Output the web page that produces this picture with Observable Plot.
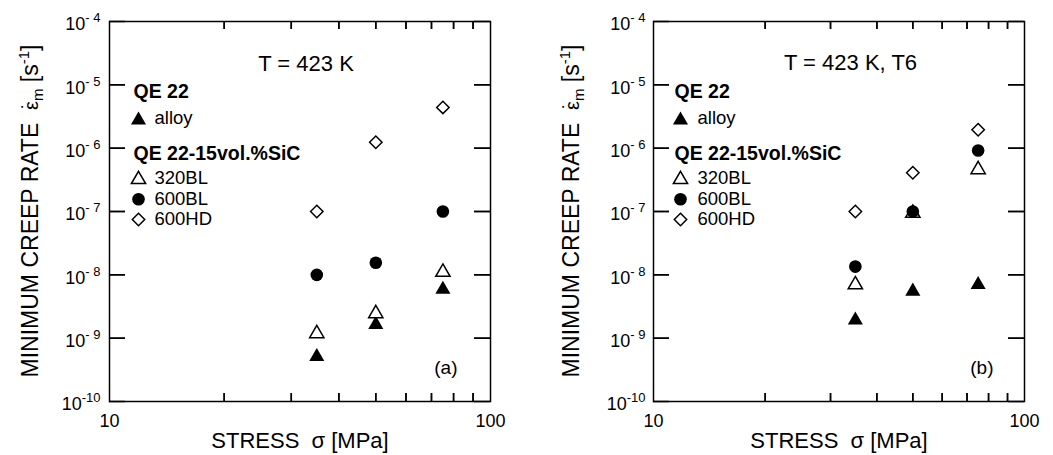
<!DOCTYPE html>
<html><head><meta charset="utf-8">
<script src="https://cdn.jsdelivr.net/npm/d3@7"></script>
<script src="https://cdn.jsdelivr.net/npm/@observablehq/plot@0.6"></script>
<style>
body{margin:0;background:#fff;}
#wrap{display:flex;width:1053px;height:455px;}
#wrap svg{flex:none;}
</style></head><body><div id="wrap"></div>
<script>
// ---- data ----
const stress = [35, 50, 75];
const xTickLabels = [10, 100];
const xMinorTicks = [20, 30, 40, 50, 60, 70, 80, 90];
const yTicks = [1e-10, 1e-9, 1e-8, 1e-7, 1e-6, 1e-5, 1e-4];

const alloyA = [5.1e-10, 1.64e-9, 5.9e-9];
const bl320A = [1.18e-9, 2.45e-9, 1.1e-8];
const bl600A = [1.0e-8, 1.55e-8, 1.0e-7];
const hd600A = [1.0e-7, 1.24e-6, 4.4e-6];

const alloyB = [1.92e-9, 5.5e-9, 7.0e-9];
const bl320B = [7.0e-9, 9.4e-8, 4.6e-7];
const bl600B = [1.35e-8, 1.0e-7, 9.2e-7];
const hd600B = [1.0e-7, 4.1e-7, 1.95e-6];

const seriesNames = ["alloy", "320BL", "600BL", "600HD"];
const groupTitles = ["QE 22", "QE 22-15vol.%SiC"];
const titles = ["T = 423 K", "T = 423 K, T6"];
const panelTags = ["(a)", "(b)"];
const xLabel = "STRESS\u00a0\u00a0\u03c3 [MPa]";

// ---- styles ----
const FONT = '"Liberation Sans", Arial, Helvetica, sans-serif';
const symStyle = {
  "alloy": {symbol: "triangle", fill: "black", stroke: "none", r: 5.6},
  "320BL": {symbol: "triangle", fill: "white", stroke: "black", strokeWidth: 1.5, r: 5.3},
  "600BL": {symbol: "circle", fill: "black", stroke: "none", r: 6.3},
  "600HD": {symbol: "diamond2", fill: "white", stroke: "black", strokeWidth: 1.5, r: 5.6}
};

function rowsFor(seriesData) {
  const rows = [];
  seriesNames.forEach((s, k) => stress.forEach((x, i) => rows.push({series: s, stress: x, rate: seriesData[k][i]})));
  return rows;
}

const H = 455, MT = 21, MB = 54;
const panels = [
  {data: rowsFor([alloyA, bl320A, bl600A, hd600A]), title: titles[0], tag: panelTags[0],
   width: 527, marginLeft: 109, marginRight: 37, ylx: 38, yPad: 9, titleDx: 6, titleDy: 49, tagDx: -33,
   legTitleDx: 24, legMarkDx: 29, legTextDx: 45},
  {data: rowsFor([alloyB, bl320B, bl600B, hd600B]), title: titles[1], tag: panelTags[1],
   width: 526, marginLeft: 126, marginRight: 29, ylx: 52, yPad: 8, titleDx: 11.5, titleDy: 48, tagDx: -31,
   legTitleDx: 21, legMarkDx: 27, legTextDx: 44}
];

const legendRows = [
  {kind: "title", text: groupTitles[0], dy: 76},
  {kind: "item", series: seriesNames[0], markDy: 98.7, textDy: 102.5},
  {kind: "title", text: groupTitles[1], dy: 138.3},
  {kind: "item", series: seriesNames[1], markDy: 158, textDy: 162.3},
  {kind: "item", series: seriesNames[2], markDy: 177.7, textDy: 183},
  {kind: "item", series: seriesNames[3], markDy: 198, textDy: 203.3}
];

function makePanel(p) {
  const fw = p.width - p.marginLeft - p.marginRight;
  const fh = H - MT - MB;
  const xTickLen = 8, yTickLen = 16;
  const tickStyle = {stroke: "black", strokeWidth: 1.5};
  const marks = [
    Plot.frame({stroke: "black", strokeWidth: 1.5}),
    // inward ticks
    Plot.tickX(xMinorTicks, {x: d => d, insetTop: fh - xTickLen, ...tickStyle}),
    Plot.tickX(xMinorTicks, {x: d => d, insetBottom: fh - xTickLen, ...tickStyle}),
    Plot.tickY(yTicks, {y: d => d, insetRight: fw - yTickLen, ...tickStyle}),
    Plot.tickY(yTicks, {y: d => d, insetLeft: fw - yTickLen, ...tickStyle}),
    Plot.axisX({anchor: "bottom", ticks: xTickLabels, tickSize: 0, tickPadding: 13, tickFormat: d => String(d), fontSize: 18, label: null}),
    Plot.axisY({anchor: "left", ticks: yTicks, tickSize: 0, tickPadding: p.yPad, dy: 3,
      tickFormat: d => String(Math.round(Math.log10(d))), fontSize: 18, label: null})
  ];
  for (const s of seriesNames) {
    const st = symStyle[s];
    marks.push(Plot.dot(p.data.filter(d => d.series === s), {x: "stress", y: "rate", ...st}));
  }
  for (const row of legendRows) {
    if (row.kind === "title") {
      marks.push(Plot.text([row.text], {text: d => d, frameAnchor: "top-left", textAnchor: "start", lineAnchor: "bottom",
        dx: p.legTitleDx, dy: row.dy, fontSize: 19.5, fontWeight: "bold"}));
    } else {
      const st = symStyle[row.series];
      marks.push(Plot.dot([row.series], {frameAnchor: "top-left", dx: p.legMarkDx, dy: row.markDy, ...st}));
      marks.push(Plot.text([row.series], {text: d => d, frameAnchor: "top-left", textAnchor: "start", lineAnchor: "bottom",
        dx: p.legTextDx, dy: row.textDy, fontSize: 18.5}));
    }
  }
  marks.push(Plot.text([p.title], {text: d => d, frameAnchor: "top", lineAnchor: "bottom", dx: p.titleDx, dy: p.titleDy, fontSize: 22}));
  marks.push(Plot.text([p.tag], {text: d => d, frameAnchor: "bottom-right", textAnchor: "end", lineAnchor: "bottom", dx: p.tagDx, dy: -28, fontSize: 19}));
  marks.push(Plot.text([xLabel], {text: d => d, frameAnchor: "bottom", lineAnchor: "bottom", dy: 46, fontSize: 22}));

  const svg = Plot.plot({
    width: p.width, height: H,
    marginLeft: p.marginLeft, marginRight: p.marginRight, marginTop: MT, marginBottom: MB,
    x: {type: "log", domain: [10, 100]},
    y: {type: "log", domain: [1e-10, 1e-4]},
    style: {fontFamily: FONT, color: "black", background: "white", overflow: "visible"},
    marks
  });

  // superscript exponents on y tick labels
  d3.select(svg).selectAll('g[aria-label="y-axis tick label"] text').each(function () {
    const t = this.textContent;
    if (!t) return;
    const e = -parseInt(t, 10);
    this.textContent = "";
    const sel = d3.select(this);
    sel.append("tspan").text("10");
    sel.append("tspan").attr("font-size", 13).attr("dy", "-0.6em").text(e < 10 ? "-\u00a0" + e : "-" + e);
  });

  // reinforce the inward frame ticks, positioned with the plot's own scales
  try {
    const sx = svg.scale("x"), sy = svg.scale("y");
    const x0 = p.marginLeft, x1 = p.width - p.marginRight, y0 = MT, y1 = H - MB;
    let d = "";
    for (const v of xMinorTicks) {
      const X = sx.apply(v) + 0.5;
      d += `M${X},${y1}V${y1 - xTickLen}M${X},${y0}V${y0 + xTickLen}`;
    }
    for (const v of yTicks.slice(1, -1)) {
      const Y = sy.apply(v) + 0.5;
      d += `M${x0},${Y}H${x0 + yTickLen}M${x1},${Y}H${x1 - yTickLen}`;
    }
    d3.select(svg).append("path").attr("d", d).attr("fill", "none")
      .attr("stroke", "black").attr("stroke-width", 1.5);
  } catch (err) { /* ticks from Plot marks remain */ }

  // y axis title with dotted epsilon, subscript and superscript
  const yl = d3.select(svg).append("text")
    .attr("transform", `translate(${p.ylx},211) rotate(-90)`)
    .attr("text-anchor", "middle").attr("font-size", 23).attr("font-family", FONT)
    .attr("fill", "black").style("white-space", "pre");
  yl.append("tspan").text("MINIMUM CREEP RATE  ");
  yl.append("tspan").attr("font-size", 20).text("\u03b5");
  yl.append("tspan").attr("font-size", 20).attr("dx", -8.2).attr("dy", -2).text("\u02d9");
  yl.append("tspan").attr("font-size", 15).attr("dx", 1.5).attr("dy", 7).text("m");
  yl.append("tspan").attr("dy", -5).text(" [s");
  yl.append("tspan").attr("font-size", 15).attr("dy", -9).text("-1");
  yl.append("tspan").attr("dy", 9).text("]");
  return svg;
}

const wrap = document.getElementById("wrap");
for (const p of panels) wrap.appendChild(makePanel(p));
</script>
</body></html>
